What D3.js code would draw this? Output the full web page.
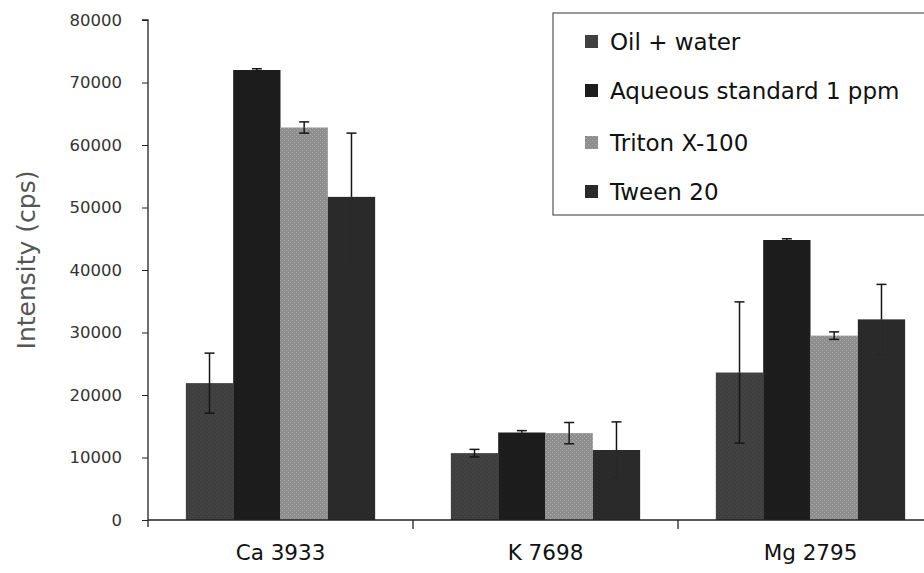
<!DOCTYPE html>
<html>
<head>
<meta charset="utf-8">
<script src="https://cdn.jsdelivr.net/npm/d3@7"></script>
<style>
  html, body { margin: 0; padding: 0; background: #fff; }
  svg { display: block; }
  text { font-family: "DejaVu Sans", "Open Sans", sans-serif; }
</style>
</head>
<body>
<svg id="chart" width="924" height="573"></svg>
<script>
const categories = ["Ca 3933", "K 7698", "Mg 2795"];
const seriesNames = ["Oil + water", "Aqueous standard 1 ppm", "Triton X-100", "Tween 20"];
const oilWater   = [21900, 10700, 23600];
const aqueous    = [72000, 14000, 44800];
const triton     = [62800, 13900, 29500];
const tween      = [51700, 11200, 32100];
const oilWaterErr = [4800, 600, 11300];
const aqueousErr  = [200, 300, 200];
const tritonErr   = [900, 1700, 600];
const tweenErr    = [10200, 4500, 5600];
const yTicks = [0, 10000, 20000, 30000, 40000, 50000, 60000, 70000, 80000];
const seriesColors = ["#3f3f3f", "#1c1c1c", "#8e8e8e", "#292929"];

const values = [oilWater, aqueous, triton, tween];
const errs = [oilWaterErr, aqueousErr, tritonErr, tweenErr];

const svg = d3.select("#chart");
const x0 = d3.scaleBand().domain(categories).range([148, 943]).paddingInner(0).paddingOuter(0);
const x1 = d3.scaleBand().domain(seriesNames).range([0, x0.bandwidth()]).paddingInner(0).paddingOuter(0.8);
const y = d3.scaleLinear().domain([0, 80000]).range([520, 20]);

// texture patterns
const defs = svg.append("defs");
seriesColors.forEach((c, i) => {
  const p = defs.append("pattern").attr("id", "pat" + i).attr("patternUnits", "userSpaceOnUse")
    .attr("width", 4).attr("height", 4);
  p.append("rect").attr("width", 4).attr("height", 4).attr("fill", c);
  const lighter = d3.color(c).brighter(0.5);
  p.append("rect").attr("x", 0).attr("y", 0).attr("width", 1).attr("height", 1).attr("fill", lighter);
  p.append("rect").attr("x", 2).attr("y", 2).attr("width", 1).attr("height", 1).attr("fill", lighter);
});

// bars
const data = [];
categories.forEach((cat, ci) => {
  seriesNames.forEach((s, si) => {
    data.push({cat, s, si, v: values[si][ci], e: errs[si][ci]});
  });
});

svg.append("g").selectAll("rect").data(data).join("rect")
  .attr("x", d => x0(d.cat) + x1(d.s))
  .attr("y", d => y(d.v))
  .attr("width", x1.bandwidth())
  .attr("height", d => y(0) - y(d.v))
  .attr("fill", d => "url(#pat" + d.si + ")");

// error bars (lower half drawn in a tone close to the bar, as in the scan)
const eg = svg.append("g").attr("stroke-width", 1.5);
data.forEach(d => {
  const cx = x0(d.cat) + x1(d.s) + x1.bandwidth() / 2;
  const lo = d.v - d.e, hi = d.v + d.e;
  const lowCol = (d.si === 2 || d.si === 0) ? "#151515" : seriesColors[d.si];
  eg.append("line").attr("x1", cx).attr("x2", cx).attr("y1", y(d.v)).attr("y2", y(hi)).attr("stroke", "#151515");
  eg.append("line").attr("x1", cx - 5).attr("x2", cx + 5).attr("y1", y(hi)).attr("y2", y(hi)).attr("stroke", "#151515");
  eg.append("line").attr("x1", cx).attr("x2", cx).attr("y1", y(lo)).attr("y2", y(d.v)).attr("stroke", lowCol);
  eg.append("line").attr("x1", cx - 5).attr("x2", cx + 5).attr("y1", y(lo)).attr("y2", y(lo)).attr("stroke", lowCol);
});

// y axis
const yAxis = d3.axisLeft(y).tickValues(yTicks).tickSize(6).tickPadding(20).tickFormat(d3.format("d"));
const yg = svg.append("g").attr("transform", "translate(148,0)").call(yAxis);
yg.select(".domain").attr("d", "M-6,20H0V527").attr("stroke", "#222").attr("stroke-width", 1.3);
yg.selectAll(".tick line").attr("stroke", "#222");
yg.selectAll(".tick text").attr("font-size", 16.5).attr("fill", "#333").attr("font-family", "DejaVu Sans");

// x axis
const xAxis = d3.axisBottom(x0).tickSize(0).tickPadding(25);
const xg = svg.append("g").attr("transform", "translate(0,520)").call(xAxis);
xg.select(".domain").attr("d", "M148,0H924").attr("stroke", "#222").attr("stroke-width", 1.3);
xg.selectAll(".tick text").attr("font-size", 21.5).attr("fill", "#111").attr("font-family", "DejaVu Sans");
categories.slice(1).forEach(c => {
  xg.append("line").attr("x1", x0(c)).attr("x2", x0(c)).attr("y1", 0).attr("y2", 9)
    .attr("stroke", "#222").attr("stroke-width", 1.3);
});

// y title
svg.append("text").attr("transform", "translate(35,260) rotate(-90)")
  .attr("text-anchor", "middle").attr("font-size", 25).attr("fill", "#555")
  .text("Intensity (cps)");

// legend
const lg = svg.append("g");
lg.append("rect").attr("x", 553).attr("y", 13).attr("width", 375).attr("height", 202)
  .attr("fill", "#fff").attr("stroke", "#555").attr("stroke-width", 1.2);
const legendY = [42, 91, 143, 192];
seriesNames.forEach((s, i) => {
  lg.append("rect").attr("x", 585).attr("y", legendY[i] - 7).attr("width", 13).attr("height", 13)
    .attr("fill", "url(#pat" + i + ")");
  lg.append("text").attr("x", 610).attr("y", legendY[i]).attr("dy", "0.35em")
    .attr("font-size", 23).attr("fill", "#111").text(s);
});
</script>
</body>
</html>
